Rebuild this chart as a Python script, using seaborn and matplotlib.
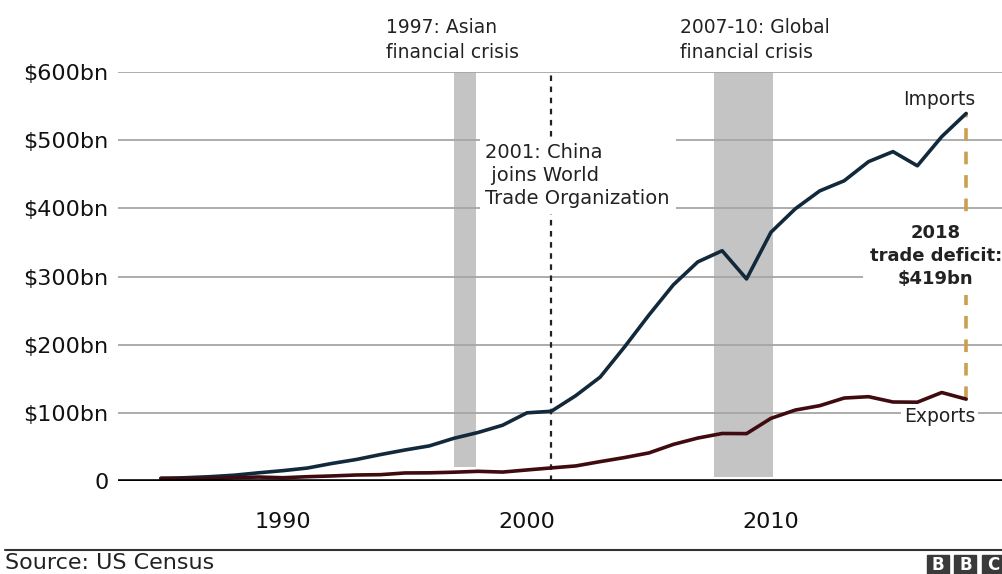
import pandas as pd
import seaborn as sns
import matplotlib.pyplot as plt
from matplotlib.patches import Rectangle
from matplotlib.lines import Line2D

# US goods trade with China, $bn
years = list(range(1985, 2019))
imports = [3.9, 4.8, 6.3, 8.5, 12.0, 15.2, 19.0, 25.7, 31.5, 38.8,
           45.5, 51.5, 62.6, 71.2, 81.8, 100.0, 102.3, 125.2, 152.4, 196.7,
           243.5, 287.8, 321.4, 337.8, 296.4, 364.9, 399.4, 425.6, 440.4, 468.5,
           483.2, 462.4, 505.2, 539.2]
exports = [3.9, 3.1, 3.5, 5.0, 5.8, 4.8, 6.3, 7.4, 8.8, 9.3,
           11.8, 12.0, 12.9, 14.2, 13.1, 16.2, 19.2, 22.1, 28.4, 34.4,
           41.2, 53.7, 63.0, 69.7, 69.5, 91.9, 104.1, 110.5, 121.7, 123.7,
           115.9, 115.6, 129.8, 120.1]

ytick_vals = [0, 100, 200, 300, 400, 500, 600]
ytick_labels = ['0', '$100bn', '$200bn', '$300bn', '$400bn', '$500bn', '$600bn']
xtick_vals = [1990, 2000, 2010]

df = pd.DataFrame({
    'year': years * 2,
    'value': imports + exports,
    'series': ['Imports'] * len(years) + ['Exports'] * len(years),
})

sns.set_theme(style='white')
plt.rcParams['font.family'] = ['DejaVu Sans']

W, H = 1003, 574
fig = plt.figure(figsize=(W / 100, H / 100), dpi=100)
fig.patch.set_facecolor('white')
ax = fig.add_axes([118 / W, (H - 481) / H, (W - 118) / W, (481 - 72) / H])

# shaded crisis periods
ax.axvspan(1997.0, 1997.92, ymin=20 / 600, ymax=1, color='#c4c4c4', lw=0, zorder=0.3)
ax.axvspan(2007.65, 2010.1, ymin=6 / 600, ymax=1, color='#c4c4c4', lw=0, zorder=0.3)

sns.lineplot(data=df, x='year', y='value', hue='series',
             palette={'Imports': '#12293b', 'Exports': '#3f0b10'},
             linewidth=2.6, legend=False, ax=ax, zorder=2.5)

# WTO entry
ax.axvline(2001, ymin=0, ymax=1, color='#222222', lw=1.6, ls=(0, (2.5, 2.5)), zorder=2)

# trade deficit marker
ax.plot([2018, 2018], [exports[-1], imports[-1]], color='#c9a050', lw=2.6,
        ls=(0, (3.5, 3)), zorder=2)

ax.axhline(0, color='black', lw=2.6, zorder=3)

ax.set_xlim(1983.24, 2019.51)
ax.set_ylim(0, 600)
ax.set_yticks(ytick_vals)
ax.set_yticklabels(ytick_labels)
ax.set_xticks(xtick_vals)
ax.set_xlabel('')
ax.set_ylabel('')
ax.yaxis.grid(True, color='#a6a6a6', lw=1.3)
ax.xaxis.grid(False)
ax.set_axisbelow(True)
for s in ax.spines.values():
    s.set_visible(False)
ax.tick_params(axis='y', length=0, pad=7, labelsize=16, labelcolor='#111111')
ax.tick_params(axis='x', length=0, pad=22, labelsize=16, labelcolor='#111111')

box = dict(facecolor='white', edgecolor='none', pad=4)
ax.text(1994.24, 647, '1997: Asian\nfinancial crisis', ha='left', va='center',
        fontsize=13.5, color='#222222', linespacing=1.35, clip_on=False)
ax.text(2006.28, 647, '2007-10: Global\nfinancial crisis', ha='left', va='center',
        fontsize=13.5, color='#222222', linespacing=1.35, clip_on=False)
ax.text(1998.3, 448, '2001: China\n joins World\nTrade Organization', ha='left', va='center',
        fontsize=14, color='#222222', linespacing=1.28, bbox=box, zorder=4)
ax.text(2016.9, 559, 'Imports', ha='center', va='center', fontsize=13.5, color='#222222')
ax.text(2016.9, 94, 'Exports', ha='center', va='center', fontsize=13.5, color='#222222',
        bbox=dict(facecolor='white', edgecolor='none', pad=2), zorder=4)
ax.text(2016.75, 330, '2018\ntrade deficit:\n$419bn', ha='center', va='center',
        fontsize=13, fontweight='bold', color='#222222', linespacing=1.35,
        bbox=dict(facecolor='white', edgecolor='none', pad=5), zorder=4, clip_on=False)

# footer
fig.add_artist(Line2D([0.005, 1], [(H - 550) / H] * 2, transform=fig.transFigure,
                      color='#333333', lw=1.5))
fig.text(5 / W, (H - 563) / H, 'Source: US Census', ha='left', va='center',
         fontsize=16, color='#222222')
for i, letter in enumerate('BBC'):
    x0 = 927 + i * 27.5
    fig.patches.append(Rectangle((x0 / W, 0), 22 / W, (H - 555) / H,
                                 transform=fig.transFigure, color='#3a3a3a'))
    fig.text((x0 + 11) / W, (H - 565) / H, letter, ha='center', va='center',
             fontsize=12, fontweight='bold', color='white')

fig.savefig('out.png', dpi=100, facecolor='white')
